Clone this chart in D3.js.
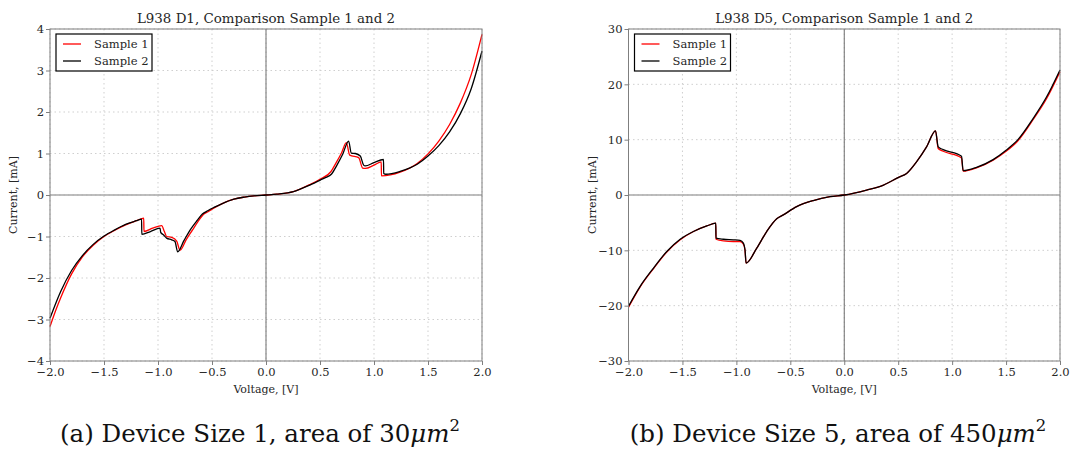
<!DOCTYPE html>
<html>
<head>
<meta charset="utf-8">
<script src="https://cdn.jsdelivr.net/npm/d3@7"></script>
<style>
  html, body { margin: 0; padding: 0; background: #fff; }
  svg { display: block; }
</style>
</head>
<body>
<svg id="chart" width="1070" height="450"></svg>
<script>
// ---- Tick values ----
const voltageTicks = [-2.0, -1.5, -1.0, -0.5, 0.0, 0.5, 1.0, 1.5, 2.0];
const d1CurrentTicks = [-4, -3, -2, -1, 0, 1, 2, 3, 4];
const d5CurrentTicks = [-30, -20, -10, 0, 10, 20, 30];

// ---- Device D1, sample 1 (voltage V, current mA) ----
const d1Sample1V = [-2.0, -1.95, -1.9, -1.8, -1.7, -1.6, -1.5, -1.4, -1.3, -1.2, -1.132,
  -1.130, -1.05, -0.966, -0.941, -0.92, -0.873, -0.827, -0.796, -0.74, -0.68, -0.63, -0.575, -0.53, -0.48,
  -0.4, -0.297, -0.2, -0.113, 0.0, 0.1, 0.254, 0.405, 0.5, 0.6, 0.65, 0.7, 0.744,
  0.775, 0.858, 0.895, 0.919, 1.0, 1.067, 1.069, 1.242, 1.4, 1.5, 1.6, 1.7, 1.8, 1.9, 2.0];
const d1Sample1I = [-3.17, -2.8, -2.47, -1.9, -1.49, -1.21, -1.0, -0.85, -0.72, -0.62, -0.56,
  -0.88, -0.8, -0.74, -0.88, -1.0, -1.02, -1.11, -1.33, -1.08, -0.84, -0.64, -0.46, -0.39, -0.31,
  -0.2, -0.1, -0.05, -0.02, 0.0, 0.02, 0.08, 0.25, 0.38, 0.56, 0.78, 1.02, 1.26,
  0.96, 0.9, 0.65, 0.64, 0.72, 0.8, 0.46, 0.55, 0.76, 0.99, 1.3, 1.7, 2.22, 2.9, 3.87];

// ---- Device D1, sample 2 ----
const d1Sample2V = [-2.0, -1.95, -1.9, -1.8, -1.7, -1.6, -1.5, -1.4, -1.3, -1.2, -1.152,
  -1.150, -1.07, -0.981, -0.975, -0.95, -0.92, -0.873, -0.843, -0.818, -0.76, -0.697, -0.64, -0.589, -0.54, -0.482,
  -0.4, -0.297, -0.2, -0.113, 0.0, 0.1, 0.254, 0.405, 0.503, 0.55, 0.605, 0.657, 0.71, 0.765,
  0.79, 0.827, 0.873, 0.904, 0.919, 1.0, 1.088, 1.090, 1.11, 1.242, 1.4, 1.5, 1.6, 1.7, 1.8, 1.9, 2.0];
const d1Sample2I = [-2.97, -2.63, -2.32, -1.82, -1.46, -1.19, -0.99, -0.84, -0.71, -0.62, -0.58,
  -0.95, -0.88, -0.8, -0.9, -0.96, -1.04, -1.08, -1.12, -1.37, -1.1, -0.82, -0.62, -0.46, -0.38, -0.3,
  -0.2, -0.1, -0.05, -0.02, 0.0, 0.02, 0.08, 0.24, 0.36, 0.42, 0.5, 0.72, 0.98, 1.3,
  1.01, 1.0, 0.94, 0.72, 0.7, 0.78, 0.855, 0.52, 0.5, 0.57, 0.74, 0.94, 1.19, 1.52, 1.96, 2.56, 3.47];

// ---- Device D5, sample 1 ----
const d5Sample1V = [-2.0, -1.892, -1.768, -1.645, -1.521, -1.398, -1.274, -1.191,
  -1.189, -1.12, -1.028, -0.966, -0.935, -0.92, -0.91, -0.811, -0.719, -0.626, -0.565, -0.441, -0.287, -0.132,
  0.0, 0.207, 0.364, 0.503, 0.578, 0.67, 0.763, 0.846, 0.871, 0.917, 1.087, 1.102,
  1.226, 1.38, 1.5, 1.61, 1.75, 1.875, 2.0];
const d5Sample1I = [-20.3, -16.6, -13.3, -10.3, -8.1, -6.6, -5.6, -5.1,
  -8.0, -8.3, -8.4, -8.4, -8.9, -10.0, -12.3, -9.6, -6.6, -4.3, -3.6, -2.1, -1.0, -0.3,
  0.0, 0.9, 1.8, 3.2, 3.9, 6.0, 8.7, 11.6, 8.4, 7.9, 6.7, 4.3,
  4.9, 6.3, 7.9, 9.8, 13.6, 17.4, 22.3];

// ---- Device D5, sample 2 ----
const d5Sample2V = [-2.0, -1.892, -1.768, -1.645, -1.521, -1.398, -1.274, -1.191,
  -1.189, -1.12, -1.028, -0.966, -0.935, -0.92, -0.91, -0.811, -0.719, -0.626, -0.565, -0.441, -0.287, -0.132,
  0.0, 0.207, 0.364, 0.503, 0.578, 0.67, 0.763, 0.846, 0.871, 0.917, 1.087, 1.102,
  1.226, 1.38, 1.5, 1.61, 1.75, 1.875, 2.0];
const d5Sample2I = [-20.1, -16.5, -13.2, -10.2, -8.0, -6.6, -5.6, -5.1,
  -7.8, -8.0, -8.1, -8.2, -8.7, -9.9, -12.3, -9.6, -6.6, -4.3, -3.6, -2.1, -1.0, -0.3,
  0.0, 0.9, 1.8, 3.2, 3.9, 6.0, 8.7, 11.6, 8.7, 8.2, 7.0, 4.4,
  5.0, 6.4, 8.1, 10.0, 13.8, 17.7, 22.6];

const seriesNames = ["Sample 1", "Sample 2"];
const seriesColors = ["#ff0000", "#000000"];

const panels = [
  {
    title: "L938 D1, Comparison Sample 1 and 2",
    caption: ["(a) Device Size 1, area of 30", "2"],
    left: 50, right: 482, captionX: 260,
    yDomain: [-4, 4], yTicks: d1CurrentTicks,
    series: [[d1Sample1V, d1Sample1I], [d1Sample2V, d1Sample2I]]
  },
  {
    title: "L938 D5, Comparison Sample 1 and 2",
    caption: ["(b) Device Size 5, area of 450", "2"],
    left: 628.5, right: 1060, captionX: 838,
    yDomain: [-30, 30], yTicks: d5CurrentTicks,
    series: [[d5Sample1V, d5Sample1I], [d5Sample2V, d5Sample2I]]
  }
];

const svg = d3.select("#chart");
const plotTop = 29, plotBottom = 361;
const serif = "'DejaVu Serif', serif";
const textColor = "#262626";
const spineColor = "#7f7f7f";

panels.forEach(p => {
  const x = d3.scaleLinear().domain([-2, 2]).range([p.left, p.right]);
  const y = d3.scaleLinear().domain(p.yDomain).range([plotBottom, plotTop]);
  const g = svg.append("g");

  // dotted grid
  g.append("g").selectAll("line").data(voltageTicks).join("line")
    .attr("x1", d => x(d)).attr("x2", d => x(d)).attr("y1", plotTop).attr("y2", plotBottom)
    .attr("stroke", "#cfcfcf").attr("stroke-width", 1).attr("stroke-dasharray", "1.5,3");
  g.append("g").selectAll("line").data(p.yTicks).join("line")
    .attr("x1", p.left).attr("x2", p.right).attr("y1", d => y(d)).attr("y2", d => y(d))
    .attr("stroke", "#cfcfcf").attr("stroke-width", 1).attr("stroke-dasharray", "1.5,3");

  // zero reference lines
  g.append("line").attr("x1", p.left).attr("x2", p.right).attr("y1", y(0)).attr("y2", y(0))
    .attr("stroke", "#a8a8a8").attr("stroke-width", 1.6);
  g.append("line").attr("x1", x(0)).attr("x2", x(0)).attr("y1", plotTop).attr("y2", plotBottom)
    .attr("stroke", "#6e6e6e").attr("stroke-width", 1);

  // curves
  const line = d3.line().x(d => x(d[0])).y(d => y(d[1])).curve(d3.curveMonotoneX);
  p.series.forEach((s, i) => {
    const pts = s[0].map((v, k) => [v, s[1][k]]);
    g.append("path").datum(pts).attr("d", line)
      .attr("fill", "none").attr("stroke", seriesColors[i]).attr("stroke-width", 1.3)
      .attr("stroke-linejoin", "round");
  });

  // frame
  g.append("rect").attr("x", p.left).attr("y", plotTop)
    .attr("width", p.right - p.left).attr("height", plotBottom - plotTop)
    .attr("fill", "none").attr("stroke", spineColor).attr("stroke-width", 1);

  // axes
  const xAxis = d3.axisBottom(x).tickValues(voltageTicks).tickFormat(d3.format(".1f"))
    .tickSizeInner(4).tickSizeOuter(0).tickPadding(3);
  const yAxis = d3.axisLeft(y).tickValues(p.yTicks).tickFormat(d3.format("d"))
    .tickSizeInner(4).tickSizeOuter(0).tickPadding(2);
  const gx = g.append("g").attr("transform", `translate(0,${plotBottom})`).call(xAxis);
  const gy = g.append("g").attr("transform", `translate(${p.left},0)`).call(yAxis);
  [gx, gy].forEach(a => {
    a.select(".domain").remove();
    a.selectAll(".tick line").attr("stroke", spineColor);
    a.selectAll(".tick text").attr("fill", textColor).attr("font-size", 11.5)
      .attr("font-family", serif);
  });

  // titles and axis labels
  g.append("text").attr("x", x(0)).attr("y", 23).attr("text-anchor", "middle")
    .attr("font-family", serif).attr("font-size", 13.4).attr("fill", textColor).text(p.title);
  g.append("text").attr("x", x(0)).attr("y", 393).attr("text-anchor", "middle")
    .attr("font-family", serif).attr("font-size", 11).attr("fill", textColor).text("Voltage, [V]");
  g.append("text").attr("transform", `translate(${p.left - 33},${(plotTop + plotBottom) / 2}) rotate(-90)`)
    .attr("text-anchor", "middle").attr("font-family", serif).attr("font-size", 11)
    .attr("fill", textColor).text("Current, [mA]");

  // legend
  const lg = g.append("g").attr("transform", `translate(${p.left + 6},34)`);
  lg.append("rect").attr("width", 96).attr("height", 37)
    .attr("fill", "#fff").attr("stroke", "#000").attr("stroke-width", 1.2);
  seriesNames.forEach((n, i) => {
    const yy = 10 + i * 17;
    lg.append("line").attr("x1", 7).attr("x2", 25).attr("y1", yy).attr("y2", yy)
      .attr("stroke", seriesColors[i]).attr("stroke-width", 1.3);
    lg.append("text").attr("x", 38).attr("y", yy + 4).attr("font-family", serif)
      .attr("font-size", 11.5).attr("fill", textColor).text(n);
  });

  // caption under each panel
  const cap = g.append("text").attr("x", p.captionX).attr("y", 442).attr("text-anchor", "middle")
    .attr("font-family", serif).attr("font-size", 24.5).attr("font-weight", 300).attr("fill", "#111");
  cap.append("tspan").text(p.caption[0]);
  cap.append("tspan").attr("font-style", "italic").text("μm");
  cap.append("tspan").attr("font-size", 16.5).attr("dy", -11).text(p.caption[1]);
});
</script>
</body>
</html>
